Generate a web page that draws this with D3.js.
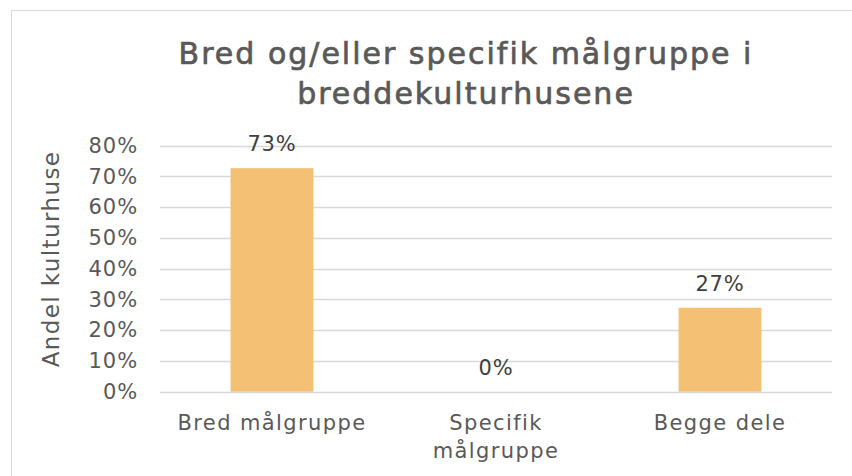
<!DOCTYPE html>
<html>
<head>
<meta charset="utf-8">
<script src="https://cdn.jsdelivr.net/npm/d3@7"></script>
<style>
  body { margin: 0; background: #fff; }
  svg { font-family: "DejaVu Sans", sans-serif; }
</style>
</head>
<body>
<div id="chart"></div>
<script>
var categories = [['Bred målgruppe'], ['Specifik', 'målgruppe'], ['Begge dele']],
    values = [0.727, 0, 0.273],
    valueLabels = ['73%', '0%', '27%'],
    ticks = [0, 0.1, 0.2, 0.3, 0.4, 0.5, 0.6, 0.7, 0.8],
    titleLines = ['Bred og/eller specifik målgruppe i', 'breddekulturhusene'],
    yTitle = 'Andel kulturhuse';

var chart_width = 852,
    chart_height = 476,
    plot_left = 160,
    plot_right = 832,
    plot_top = 145.7,
    plot_bottom = 391.7,
    text_color = '#595959',
    bar_color = '#F4C074',
    grid_color = '#d9d9d9',
    font = '"DejaVu Sans", sans-serif';

var svg = d3.select('#chart').append('svg')
    .attr('width', chart_width)
    .attr('height', chart_height);

// Chart frame, runs off the right and bottom edge like the original.
svg.append('rect')
    .attr('x', 11.5)
    .attr('y', 10.5)
    .attr('width', 900)
    .attr('height', 500)
    .attr('fill', '#fff')
    .attr('stroke', '#d9d9d9');

var x = d3.scaleBand()
    .domain(d3.range(categories.length))
    .range([plot_left, plot_right])
    .paddingInner(0.63)
    .paddingOuter(0.315);

var y = d3.scaleLinear()
    .domain([0, 0.8])
    .range([plot_bottom, plot_top]);

// Gridlines
svg.append('g')
    .selectAll('line')
    .data(ticks)
    .join('line')
    .attr('x1', plot_left)
    .attr('x2', plot_right)
    .attr('y1', function (d) { return Math.round(y(d)) + 0.5; })
    .attr('y2', function (d) { return Math.round(y(d)) + 0.5; })
    .attr('stroke', grid_color)
    .attr('stroke-width', 1.3);

// Y axis labels
var yAxis = d3.axisLeft(y)
    .tickValues(ticks)
    .tickFormat(d3.format('.0%'))
    .tickSize(0)
    .tickPadding(0);

svg.append('g')
    .attr('transform', 'translate(138,0)')
    .call(yAxis)
    .call(function (g) {
        g.select('.domain').remove();
        g.selectAll('text')
            .attr('fill', text_color)
            .attr('font-size', '21px')
            .attr('letter-spacing', '0.9px')
            .attr('font-family', font);
    });

// Bars
svg.append('g')
    .selectAll('rect')
    .data(values)
    .join('rect')
    .attr('x', function (d, i) { return x(i); })
    .attr('y', function (d) { return y(d); })
    .attr('width', x.bandwidth())
    .attr('height', function (d) { return y(0) - y(d); })
    .attr('fill', bar_color);

// Value labels
svg.append('g')
    .selectAll('text')
    .data(values)
    .join('text')
    .attr('x', function (d, i) { return x(i) + x.bandwidth() / 2; })
    .attr('y', function (d) { return y(d) - 17; })
    .attr('text-anchor', 'middle')
    .attr('fill', '#404040')
    .attr('font-size', '21px')
    .attr('letter-spacing', '0.8px')
    .text(function (d, i) { return valueLabels[i]; });

// Category labels
var cat = svg.append('g')
    .selectAll('text')
    .data(categories)
    .join('text')
    .attr('x', function (d, i) { return x(i) + x.bandwidth() / 2; })
    .attr('y', 430)
    .attr('text-anchor', 'middle')
    .attr('fill', text_color)
    .attr('font-size', '21px')
    .attr('letter-spacing', '1.4px');

cat.selectAll('tspan')
    .data(function (d) { return d; })
    .join('tspan')
    .attr('x', function () { return d3.select(this.parentNode).attr('x'); })
    .attr('dy', function (d, i) { return i === 0 ? 0 : 28; })
    .text(function (d) { return d; });

// Title
svg.append('g')
    .selectAll('text')
    .data(titleLines)
    .join('text')
    .attr('x', 466)
    .attr('y', function (d, i) { return 64 + i * 40; })
    .attr('text-anchor', 'middle')
    .attr('fill', text_color)
    .attr('stroke', text_color)
    .attr('stroke-width', 0.7)
    .attr('font-size', '30px')
    .attr('letter-spacing', '2px')
    .text(function (d) { return d; });

// Y axis title
svg.append('text')
    .attr('transform', 'translate(59,259) rotate(-90)')
    .attr('text-anchor', 'middle')
    .attr('fill', text_color)
    .attr('font-size', '23px')
    .attr('letter-spacing', '1.4px')
    .text(yTitle);
</script>
</body>
</html>
